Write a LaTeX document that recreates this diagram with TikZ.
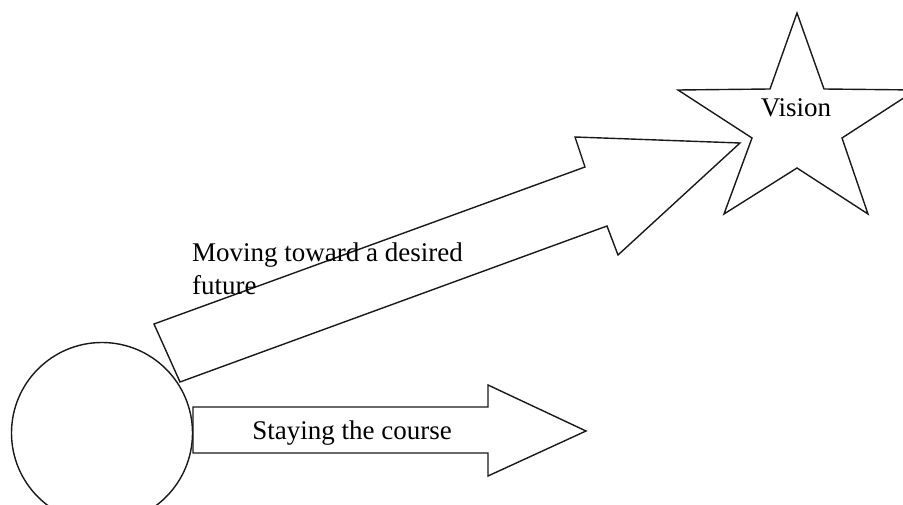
\documentclass[tikz,border=0pt]{standalone}
\usepackage{fontspec}
\setmainfont{Liberation Serif}

\begin{document}
\begin{tikzpicture}[x=1pt,y=-1pt,
        outline/.style={draw=black!90,line width=1.4pt,line join=miter},
        caption/.style={inner sep=0pt,font=\fontsize{27}{34}\selectfont}
    ]
        \useasboundingbox (0,0) rectangle (903,505);
        \clip (0,0) rectangle (903,505);

        % Define the start and the goal
        \node[outline,circle,inner sep=0pt,minimum size=181pt] (now) at (102,433) {};
        \draw[outline] (797,13) -- (824,89) -- (916,90) -- (842,138) -- (868,214)
            -- (797,168) -- (724,214) -- (752,138) -- (678,90) -- (770,89) -- cycle;
        \node[caption,anchor=base] (vision) at (796,117) {Vision};

        % Draw the two paths
        \draw[outline] (154,324) -- (585,167) -- (575,137) -- (740,143)
            -- (618,255) -- (607,226) -- (180,382) -- cycle;
        \draw[outline] (193,407) -- (488,407) -- (488,385) -- (586,431)
            -- (488,476) -- (488,453) -- (193,453) -- cycle;

        % Label the paths
        \node[caption,anchor=base west,align=left] (moving) at (192,295)
            {Moving toward a desired\\future};
        \node[caption,anchor=base] (staying) at (352,439) {Staying the course};
    \end{tikzpicture}
\end{document}
